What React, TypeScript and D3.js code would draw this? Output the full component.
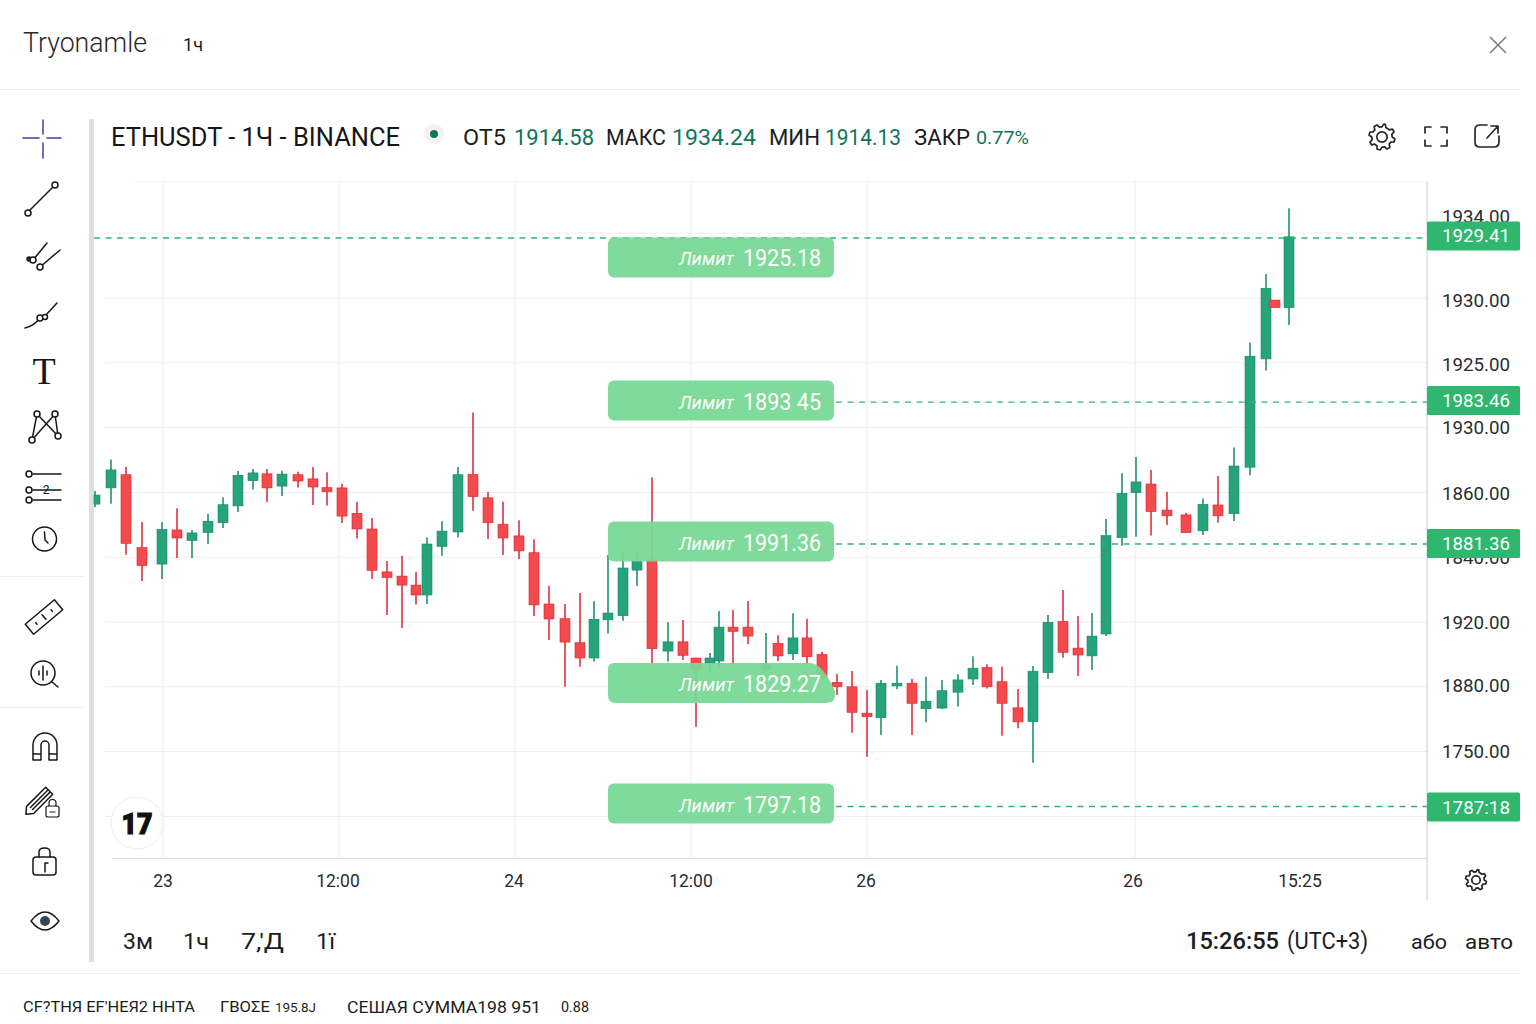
import React, { useEffect, useRef } from 'react';
import * as d3 from 'd3';

// bar time in minutes from the first visible bar
const barTime = [0, 64, 124, 188, 268, 328, 388, 452, 512, 572, 632, 688, 748, 812, 872, 928, 988, 1048, 1108, 1168, 1228, 1284, 1328, 1388, 1452, 1512, 1572, 1632, 1696, 1756, 1816, 1880, 1940, 1996, 2052, 2112, 2168, 2228, 2292, 2352, 2404, 2460, 2496, 2552, 2612, 2684, 2732, 2792, 2848, 2908, 2968, 3028, 3088, 3144, 3208, 3268, 3324, 3388, 3452, 3512, 3568, 3628, 3692, 3752, 3812, 3872, 3932, 3988, 4044, 4108, 4164, 4224, 4288, 4364, 4432, 4492, 4556, 4620, 4684, 4720, 4776];
const openPrice = [1835.3, 1840.7, 1845.1, 1820.8, 1815.3, 1826.7, 1823.2, 1825.8, 1829.1, 1834.7, 1843.1, 1845.4, 1841.3, 1845.1, 1843.7, 1840.8, 1840.7, 1832.2, 1827, 1812.7, 1811.3, 1808.3, 1805, 1821.2, 1826, 1845.2, 1837.4, 1828.6, 1824.7, 1819.1, 1802, 1797.1, 1789.1, 1784, 1796.7, 1798.1, 1813.3, 1816.7, 1786.3, 1789.4, 1784, 1782.3, 1783, 1794.3, 1794.3, 1780, 1788.9, 1785.4, 1790.7, 1785.2, 1775.9, 1774.4, 1765.6, 1764.1, 1774.7, 1775.6, 1767.1, 1767.3, 1772.6, 1777, 1780.8, 1776.1, 1767.4, 1762.8, 1779.1, 1796.2, 1787.3, 1784.7, 1792, 1824.1, 1839.1, 1842, 1833.3, 1831.7, 1826.4, 1835, 1832.1, 1847.6, 1883.7, 1903.3, 1900.8];
const closePrice = [1838.3, 1846.7, 1822.2, 1814.8, 1826.9, 1824, 1825.7, 1829.6, 1835.1, 1844.9, 1845.7, 1840.7, 1845.3, 1843, 1841, 1839.4, 1831.3, 1827, 1813.2, 1810.8, 1808.3, 1805, 1822, 1826.3, 1845.1, 1837.8, 1829.1, 1824, 1819.7, 1801.7, 1797, 1789.3, 1784, 1796.9, 1799, 1814, 1816.3, 1787.1, 1789.4, 1784.9, 1780, 1784, 1794.3, 1792.9, 1791.3, 1781.7, 1784.7, 1790.7, 1784.4, 1777.3, 1774.4, 1765.9, 1764.4, 1775.6, 1775.6, 1768.9, 1769.6, 1773.1, 1776.7, 1780.6, 1774.4, 1768.9, 1762.7, 1779.6, 1795.9, 1785.9, 1785, 1791.3, 1824.8, 1838.9, 1842.7, 1832.8, 1831.4, 1825.8, 1835.2, 1831.4, 1848, 1884.6, 1907.2, 1900.8, 1924.4];
const highPrice = [1839.7, 1850.2, 1847.7, 1829.3, 1829.3, 1833.9, 1826.7, 1832.1, 1837.6, 1846.3, 1847, 1847, 1846.4, 1846.1, 1847.7, 1845.9, 1842.1, 1836.1, 1830.7, 1816.3, 1818.1, 1812.7, 1824.2, 1829.6, 1847.7, 1865.8, 1839.3, 1836.1, 1829.9, 1823.6, 1808.1, 1802, 1805.7, 1802.9, 1818.3, 1819, 1819, 1844.2, 1795.9, 1796.7, 1784, 1785.7, 1799.7, 1800, 1803, 1792.3, 1791.6, 1798.9, 1797.1, 1786.1, 1778.7, 1779.7, 1773.3, 1776.7, 1781.4, 1777.1, 1777.8, 1776.7, 1778.6, 1784.6, 1781.9, 1781.1, 1773.7, 1781.3, 1798.3, 1806.7, 1798, 1799, 1830.3, 1845.6, 1851, 1846.7, 1839.4, 1832.4, 1837.2, 1844.7, 1854.2, 1889.2, 1912, 1903.3, 1933.9];
const lowPrice = [1834.3, 1835.4, 1818.4, 1809.7, 1810.3, 1817.3, 1817.3, 1822, 1827.3, 1832.7, 1840.2, 1836, 1838, 1840.8, 1835, 1834.8, 1829, 1823.8, 1810.3, 1798.3, 1794, 1801.8, 1802, 1818.1, 1824.2, 1833.1, 1823.7, 1818.3, 1817, 1798, 1790, 1774.4, 1781.1, 1782.8, 1792.2, 1796.4, 1808, 1782.3, 1782.8, 1783.3, 1761.1, 1779.3, 1780.7, 1782, 1788.6, 1779.3, 1783, 1783.3, 1782.3, 1776.7, 1771.7, 1759.1, 1751.1, 1758.3, 1773.6, 1758.3, 1762.6, 1767, 1767.8, 1775, 1773.8, 1758.1, 1760.6, 1749.1, 1777, 1784.1, 1778, 1780, 1791.3, 1821.4, 1824.4, 1824.8, 1828.3, 1825.7, 1825, 1829.1, 1829.7, 1844.8, 1879.8, 1900.8, 1895];

// price axis
const gridPrices = [1942.6, 1925.6, 1904, 1882.4, 1860.8, 1839.2, 1817.6, 1796, 1774.4, 1752.8, 1731.2];
const tickPrices = [1931.3, 1903.3, 1882, 1860.7, 1839, 1817.6, 1796, 1774.7, 1753];
const tickLabels = ['1934.00', '1930.00', '1925.00', '1930.00', '1860.00', '1840.00', '1920.00', '1880.00', '1750.00'];

// time axis
const gridTimes = [272, 976, 1680, 2384, 3088, 4160];
const timeTicks = [272, 972, 1676, 2384, 3084, 4152, 4820];
const timeLabels = ['23', '12:00', '24', '12:00', '26', '26', '15:25'];

// limit orders
const dashPrices = [1924, 1869.3, 1822, 1734.5];
const dashStarts = [0, 836, 836, 836];
const tagPrices = [1924.7, 1869.8, 1822.2, 1734.3];
const tagLabels = ['1929.41', '1983.46', '1881.36', '1787:18'];
const orderCenters = [1917.5, 1869.8, 1822.8, 1775.7, 1735.5];
const orderLabels = ['1925.18', '1893 45', '1991.36', '1829.27', '1797.18'];

const UP = '#27a37c';
const UP_WICK = '#17866a';
const DOWN = '#f34a4c';
const DOWN_EDGE = '#dc2430';
const TAG = '#2fb66f';
const BADGE = '#78d896';
const INK = '#1c1d20';
const QUOTE = '#0e7558';

const App: React.FC = () => {
  const svgRef = useRef<SVGSVGElement | null>(null);

  useEffect(() => {
    if (!svgRef.current) return;

    const svg = d3.select(svgRef.current);
    svg.selectAll('*').remove();

    const x = d3.scaleLinear().domain([0, 4776]).range([95, 1289]);
    const y = d3.scaleLinear().domain([1750, 1934]).range([760, 208]);

    const text = (
      g: any, tx: number, ty: number, str: string, size: number,
      o: { fill?: string; anchor?: string; weight?: number; italic?: boolean; len?: number; family?: string } = {}
    ) => {
      const t = g.append('text')
        .attr('x', tx).attr('y', ty)
        .attr('dominant-baseline', 'central')
        .attr('font-family', o.family ?? 'Roboto, sans-serif')
        .attr('font-size', size)
        .attr('font-weight', o.weight ?? 400)
        .attr('fill', o.fill ?? INK)
        .attr('text-anchor', o.anchor ?? 'start')
        .text(str);
      if (o.italic) t.attr('font-style', 'italic');
      if (o.len) t.attr('textLength', o.len).attr('lengthAdjust', 'spacingAndGlyphs');
      return t;
    };

    const rule = (g: any, x1: number, y1: number, x2: number, y2: number, color: string, w = 1) =>
      g.append('line').attr('x1', x1).attr('y1', y1).attr('x2', x2).attr('y2', y2)
        .attr('stroke', color).attr('stroke-width', w);

    // Frame
    svg.append('rect').attr('width', 1536).attr('height', 1024).attr('fill', '#fff');
    const frame = svg.append('g');
    rule(frame, 0, 89.5, 1520, 89.5, '#f0f0f0');
    rule(frame, 0, 973.5, 1520, 973.5, '#eeeeee');
    rule(frame, 0, 576.5, 85, 576.5, '#f0f0f0');
    rule(frame, 0, 707.5, 85, 707.5, '#eeeeee');
    frame.append('rect').attr('x', 89).attr('y', 119).attr('width', 5).attr('height', 843).attr('fill', '#dde0e3');

    // Grid
    const grid = svg.append('g');
    gridPrices.forEach((p, i) => {
      rule(grid, i === 0 ? 135 : 105, y(p), 1428, y(p), i === 0 ? '#f5f5f5' : '#eeeeee');
    });
    gridTimes.forEach(t => rule(grid, x(t), 181, x(t), 858, '#eef0f2'));
    rule(grid, 112, 858.5, 1427, 858.5, '#dddddd');
    rule(grid, 1427, 181, 1427, 900, '#c9cbce');

    // Candles
    const candles = svg.append('g')
      .selectAll('g')
      .data(barTime.map((t, i) => ({ t, o: openPrice[i], c: closePrice[i], h: highPrice[i], l: lowPrice[i] })))
      .join('g');

    candles.append('line')
      .attr('x1', d => x(d.t)).attr('x2', d => x(d.t))
      .attr('y1', d => y(d.h)).attr('y2', d => y(d.l))
      .attr('stroke', d => (d.c >= d.o ? UP_WICK : DOWN_EDGE))
      .attr('stroke-width', 1.5);

    candles.append('rect')
      .attr('x', d => Math.max(x(d.t) - 5, 94)).attr('width', d => x(d.t) + 5 - Math.max(x(d.t) - 5, 94))
      .attr('y', d => y(Math.max(d.o, d.c)))
      .attr('height', d => Math.max(Math.abs(y(d.o) - y(d.c)), 1))
      .attr('fill', d => (d.c >= d.o ? UP : DOWN))
      .attr('stroke', d => (d.c >= d.o ? UP_WICK : DOWN_EDGE))
      .attr('stroke-width', 0.6);

    // Price axis labels
    const axis = svg.append('g');
    tickPrices.forEach((p, i) => text(axis, 1442, y(p), tickLabels[i], 18, { fill: '#2b2c30', len: 68 }));

    // Time axis labels
    timeTicks.forEach((t, i) => text(axis, x(t), 881, timeLabels[i], 17.5, { anchor: 'middle', fill: '#2b2c30' }));

    // Dashed order lines and their tags
    const orders = svg.append('g');
    dashPrices.forEach((p, i) => {
      rule(orders, dashStarts[i] || 94, y(p), 1427, y(p), TAG, 1.4).attr('stroke-dasharray', '6 5.5');
      const ty = y(tagPrices[i]);
      orders.append('rect')
        .attr('x', 1427).attr('y', ty - 14.5).attr('width', 93).attr('height', 29).attr('rx', 1.5).attr('fill', TAG);
      text(orders, 1442, ty + 0.5, tagLabels[i], 18.5, { fill: '#fff', len: 68 });
    });

    // Limit badges
    orderCenters.forEach((p, i) => {
      const cy = y(p);
      if (i === 3) {
        orders.append('path')
          .attr('d', `M614,${cy - 20} H810 Q822,${cy - 20} 835,${cy + 8} V${cy + 13} Q835,${cy + 20} 826,${cy + 20} H616 Q608,${cy + 20} 608,${cy + 12} V${cy - 14} Q608,${cy - 20} 614,${cy - 20} Z`)
          .attr('fill', BADGE).attr('fill-opacity', 0.95);
      } else {
        orders.append('rect')
          .attr('x', 608).attr('y', cy - 20).attr('width', 226).attr('height', 40).attr('rx', 6)
          .attr('fill', BADGE).attr('fill-opacity', 0.95);
      }
      const dy = i === 0 ? 0.5 : 2;
      text(orders, 679, cy + dy, 'Лимит', 18, { fill: '#fff', italic: true, len: 55 });
      text(orders, 743, cy + dy, orderLabels[i], 23, { fill: '#fff', len: 78 });
    });

    // Top bar
    const top = svg.append('g');
    text(top, 23, 43, 'Tryonamle', 27, { len: 124, weight: 300, fill: '#2a2a2e' });
    text(top, 183, 44, '1ч', 18, { len: 20 });
    rule(top, 1490, 37, 1506, 53, '#73777c', 1.4);
    rule(top, 1506, 37, 1490, 53, '#73777c', 1.4);

    // Legend row
    const legend = svg.append('g');
    text(legend, 111, 137, 'ETHUSDT - 1Ч - BINANCE', 25, { len: 289, fill: '#151619' });
    legend.append('circle').attr('cx', 434).attr('cy', 134).attr('r', 10).attr('fill', '#f6f1f4');
    legend.append('circle').attr('cx', 434).attr('cy', 134).attr('r', 4).attr('fill', QUOTE);
    text(legend, 463, 137, 'ОТ5', 22, { len: 43 });
    text(legend, 514, 137, '1914.58', 22.5, { len: 80, fill: QUOTE });
    text(legend, 606, 137, 'МАКС', 22, { len: 60 });
    text(legend, 672, 137, '1934.24', 22.5, { len: 84, fill: QUOTE });
    text(legend, 769, 137, 'МИН', 22, { len: 51 });
    text(legend, 825, 137, '1914.13', 22.5, { len: 76, fill: QUOTE });
    text(legend, 914, 137, 'ЗАКР', 22, { len: 56 });
    text(legend, 976, 137, '0.77%', 19, { len: 53, fill: QUOTE });

    // Icons: settings, fullscreen, snapshot, and the small gear under the axis
    const icon = svg.append('g').attr('fill', 'none').attr('stroke', '#24262a').attr('stroke-width', 1.7).attr('stroke-linecap', 'round').attr('stroke-linejoin', 'round');
    const gear = (cx: number, cy: number, r: number) => {
      icon.append('circle').attr('cx', cx).attr('cy', cy).attr('r', r * 0.4);
      const pts = d3.range(48).map(k => {
        const a = (k / 48) * Math.PI * 2;
        const rr = Math.sin(a * 8) > 0 ? r : r * 0.78;
        return [cx + rr * Math.cos(a), cy + rr * Math.sin(a)] as [number, number];
      });
      icon.append('path').attr('d', d3.line()(pts) + 'Z');
    };
    gear(1382, 137, 13);
    gear(1476, 880, 10.5);
    icon.append('path').attr('d', 'M1425,133 V127 H1431 M1441,127 H1447 V133 M1447,140 V146 H1441 M1431,146 H1425 V140');
    icon.append('path').attr('d', 'M1487,125 H1480 Q1475,125 1475,130 V142 Q1475,147 1480,147 H1494 Q1499,147 1499,142 V136 M1487,138 L1497,127 M1491,126 H1498 V133');

    // Drawing toolbar
    const tools = svg.append('g').attr('fill', 'none').attr('stroke', '#15171a').attr('stroke-width', 1.5).attr('stroke-linecap', 'round').attr('stroke-linejoin', 'round');
    const dot = (cx: number, cy: number, r = 3) => tools.append('circle').attr('cx', cx).attr('cy', cy).attr('r', r).attr('fill', '#fff');

    tools.append('path').attr('stroke', '#3f3c9f').attr('d', 'M23,138 H39 M47,138 H61 M43,120 V134 M43,143 V158');

    tools.append('path').attr('d', 'M29,211 L53,187');
    dot(28, 213); dot(55, 185);

    tools.append('path').attr('d', 'M33,260 L47,243 M40,267 L60,250');
    tools.append('circle').attr('cx', 29).attr('cy', 259).attr('r', 2).attr('fill', '#333');
    dot(33, 260); dot(40, 267);

    tools.append('path').attr('d', 'M25,328 Q34,326 40,318 M45,316 L57,303');
    dot(40, 318); dot(45, 317, 2.5);

    text(svg, 44, 371, 'T', 38, { anchor: 'middle', family: '"Liberation Serif", serif', fill: '#15171a' });

    tools.append('path').attr('d', 'M32,440 L37,414 L58,436 L55,414 L32,440');
    dot(37, 414); dot(55, 414); dot(32, 440); dot(58, 436);

    tools.append('path').attr('d', 'M33,474 H61 M33,490 H61 M33,500 H61');
    dot(29, 474); dot(29, 490); dot(29, 500);
    text(svg, 46, 490, '2', 12, { anchor: 'middle', fill: '#15171a' });

    tools.append('circle').attr('cx', 44.5).attr('cy', 539).attr('r', 12);
    tools.append('path').attr('d', 'M44.5,532 L45,540 L48,543');

    tools.append('g').attr('transform', 'translate(44,617) rotate(-40)').call((g: any) => {
      g.append('rect').attr('x', -19).attr('y', -6.5).attr('width', 38).attr('height', 13);
      g.append('path').attr('d', 'M-10,-1 V1 M0,-3 V3 M10,-1 V1');
    });

    tools.append('circle').attr('cx', 43).attr('cy', 673).attr('r', 12);
    tools.append('path').attr('d', 'M52,682 L58,687 M43,666 V680 M39,671 L39,675 M47,671 L47,675');

    tools.append('path').attr('d', 'M33,760 V745 A12,12 0 0 1 57,745 V760 H49 V745 A4,4 0 0 0 41,745 V760 Z M33,754 H41 M49,754 H57');

    tools.append('g').attr('transform', 'translate(40,800) rotate(-45)').call((g: any) => {
      g.append('path').attr('d', 'M-14,-5 H13 V5 H-14 L-20,0 Z M-12,-1.5 H13 M-12,1.5 H13');
    });
    tools.append('rect').attr('x', 46).attr('y', 806).attr('width', 13).attr('height', 11).attr('rx', 2).attr('stroke-width', 1.2);
    tools.append('path').attr('stroke-width', 1.2).attr('d', 'M49,806 V803 A3.5,3.5 0 0 1 56,803 V806 M50,812 H55');

    tools.append('rect').attr('x', 33).attr('y', 857).attr('width', 23).attr('height', 18).attr('rx', 3);
    tools.append('path').attr('d', 'M39,857 V852 Q39,848 44.5,848 Q50,848 50,852 V857 M45,872 V863 H48');

    tools.append('path').attr('d', 'M31,921 Q45,903 59,921 Q45,939 31,921 Z');
    tools.append('circle').attr('cx', 45).attr('cy', 921).attr('r', 5).attr('fill', '#3b4654').attr('stroke', 'none');

    // Logo bubble
    svg.append('circle').attr('cx', 137).attr('cy', 823).attr('r', 26).attr('fill', '#fff').attr('stroke', '#efefef');
    text(svg, 137, 824, '17', 29, { anchor: 'middle', weight: 900, fill: '#111', len: 31 }).attr('stroke', '#111').attr('stroke-width', 1.2);

    // Range and time row
    const row = svg.append('g');
    text(row, 123, 941, '3м', 22, { len: 30 });
    text(row, 183, 941, '1ч', 22, { len: 26 });
    text(row, 241, 941, "7,'Д", 22, { len: 43 });
    text(row, 316, 941, '1ї', 22, { len: 19 });
    text(row, 1186, 941, '15:26:55', 23, { len: 93, weight: 500 });
    text(row, 1287, 941, '(UTC+3)', 23, { len: 81 });
    text(row, 1411, 942, 'або', 19.5, { len: 36 });
    text(row, 1465, 942, 'авто', 19.5, { len: 48 });

    // Footer
    const foot = svg.append('g');
    text(foot, 23, 1007, "CF?ТНЯ EF'НЕЯ2 ННТА", 15, { len: 172 });
    text(foot, 220, 1007, 'ГВОΣЕ', 15, { len: 50 });
    text(foot, 275, 1007, '195.8Ј', 13.5, { len: 41 });
    text(foot, 347, 1007, 'СЕШАЯ СУММА198 951', 17, { len: 194 });
    text(foot, 561, 1007, '0.88', 14, { len: 28 });
  }, []);

  return (
    <svg
      ref={svgRef}
      width={1536}
      height={1024}
      viewBox="0 0 1536 1024"
      style={{ position: 'absolute', top: 0, left: 0 }}
    />
  );
};

export default App;
